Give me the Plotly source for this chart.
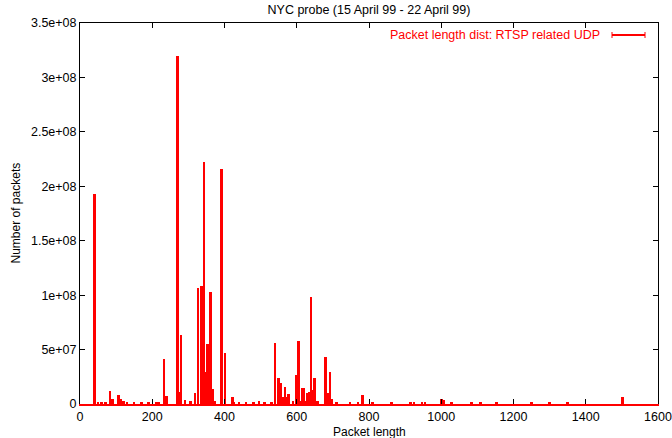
import plotly.graph_objects as go

# Packet length (bytes) and number of packets
packet_length = [40, 50, 60, 70, 83, 90, 106, 114, 120, 130, 150, 170, 190, 210, 218,
                 232, 240, 270, 276, 280, 290, 306, 318, 327, 336, 340, 343, 348, 353,
                 361, 368, 373, 391, 402, 422, 426, 440, 460, 480, 496, 510, 530,
                 540, 549, 555, 561, 568, 572, 577, 590, 598, 605, 610, 614, 620, 625,
                 629, 635, 640, 644, 649, 657, 679, 685, 692, 698, 710, 747, 770, 782,
                 810, 862, 915, 924, 947, 955, 1001, 1007, 1029, 1084, 1109, 1153,
                 1250, 1300, 1350, 1502]
packet_count = [1.93e8, 1.5e6, 1.5e6, 1.5e6, 1.2e7, 5e6, 8e6, 5e6, 3e6, 1.5e6, 1.5e6, 1.5e6, 1.5e6, 1.5e6, 2e6,
                4.1e7, 7e6, 3.2e8, 1.1e7, 6.3e7, 4e6, 3e6, 1.0e7, 1.07e8, 1.08e8, 2.7e7, 2.22e8, 2.9e7, 5.5e7,
                1.026e8, 1.38e7, 3e6, 2.155e8, 4.65e7, 6e6, 2e6, 2e6, 2e6, 2e6, 3e6, 2e6, 2e6,
                5.57e7, 2.36e7, 1.96e7, 6.7e6, 1.6e7, 6e6, 8.9e6, 3e6, 2.7e7, 5.76e7, 3e6, 1.5e7, 1.5e7, 3e6,
                1.04e7, 1.1e7, 9.8e7, 1.3e7, 2.4e7, 3e6, 4.3e7, 1e7, 2.9e7, 5e6, 2e6, 2e6, 2e6, 8.3e6,
                1.5e6, 1.5e6, 1.5e6, 1.5e6, 2e6, 1.5e6, 4.6e6, 3.4e6, 1.5e6, 1.5e6, 1.5e6, 1.5e6,
                1.5e6, 1.5e6, 1.5e6, 6.2e6]

x_ticks = [0, 200, 400, 600, 800, 1000, 1200, 1400, 1600]
y_ticks = [0, 5e7, 1e8, 1.5e8, 2e8, 2.5e8, 3e8, 3.5e8]
y_tick_labels = ["0", "5e+07", "1e+08", "1.5e+08", "2e+08", "2.5e+08", "3e+08", "3.5e+08"]

title_text = "NYC probe (15 April 99 - 22 April 99)"
x_label = "Packet length"
y_label = "Number of packets"
series_name = "Packet length dist: RTSP related UDP"

FONT = "Liberation Sans, Arial, Helvetica, sans-serif"
RED = "#ff0000"
FS = 12.5

fig = go.Figure()
fig.add_trace(go.Bar(
    x=packet_length, y=packet_count, width=7,
    marker=dict(color=RED, line=dict(width=0)),
    name=series_name, showlegend=False,
))
# invisible trace on top axis so it is drawn
fig.add_trace(go.Scatter(x=[None], y=[None], xaxis="x2", showlegend=False, hoverinfo="skip"))

fig.update_layout(
    width=672, height=438,
    margin=dict(l=80, r=14, t=23, b=34, autoexpand=False),
    paper_bgcolor="white", plot_bgcolor="white",
    font=dict(family=FONT, size=FS, color="black"),
    showlegend=False,
    bargap=0,
    title=dict(text=title_text, x=0.5, xref="paper", xanchor="center",
               y=1 - 10 / 438, yref="container", yanchor="middle",
               font=dict(family=FONT, size=FS, color="black")),
    xaxis=dict(range=[0, 1600], tickvals=x_ticks, ticks="inside", ticklen=5,
               tickcolor="black", showline=True, linecolor=RED, linewidth=2,
               mirror=False, showgrid=False, zeroline=False, automargin=False,
               ticklabelstandoff=0,
               tickfont=dict(family=FONT, size=FS)),
    xaxis2=dict(range=[0, 1600], tickvals=x_ticks, ticks="inside", ticklen=5,
                tickcolor="black", showline=True, linecolor="black", linewidth=1,
                overlaying="x", side="top", showticklabels=False, automargin=False,
                showgrid=False, zeroline=False),
    yaxis=dict(range=[0, 3.5e8], tickvals=y_ticks, ticktext=y_tick_labels,
               ticks="inside", ticklen=5, tickcolor="black",
               showline=True, linecolor="black", linewidth=1, mirror="ticks",
               showgrid=False, zeroline=False, automargin=False,
               tickfont=dict(family=FONT, size=FS)),
)

fig.add_annotation(text=x_label, xref="paper", yref="paper", x=0.5, y=-27.5 / 381,
                   xanchor="center", yanchor="middle", showarrow=False,
                   font=dict(family=FONT, size=12, color="black"))
fig.add_annotation(text=y_label, xref="paper", yref="paper", x=-65 / 578, y=0.5,
                   xanchor="center", yanchor="middle", textangle=-90, showarrow=False,
                   font=dict(family=FONT, size=12, color="black"))

# legend entry (gnuplot style, inside top right)
ly = (404 - 35) / 381
fig.add_annotation(text=series_name, xref="paper", yref="paper", x=(602 - 80) / 578, y=ly,
                   xanchor="right", yanchor="middle", showarrow=False,
                   font=dict(family=FONT, size=FS, color=RED))
x0, x1 = (612 - 80) / 578, (645 - 80) / 578
cap = 3 / 381
fig.add_shape(type="line", xref="paper", yref="paper", x0=x0, x1=x1, y0=ly, y1=ly,
              line=dict(color=RED, width=2))
for xx in (x0, x1):
    fig.add_shape(type="line", xref="paper", yref="paper", x0=xx, x1=xx, y0=ly - cap, y1=ly + cap,
                  line=dict(color=RED, width=1))

fig.write_html("out.html")
